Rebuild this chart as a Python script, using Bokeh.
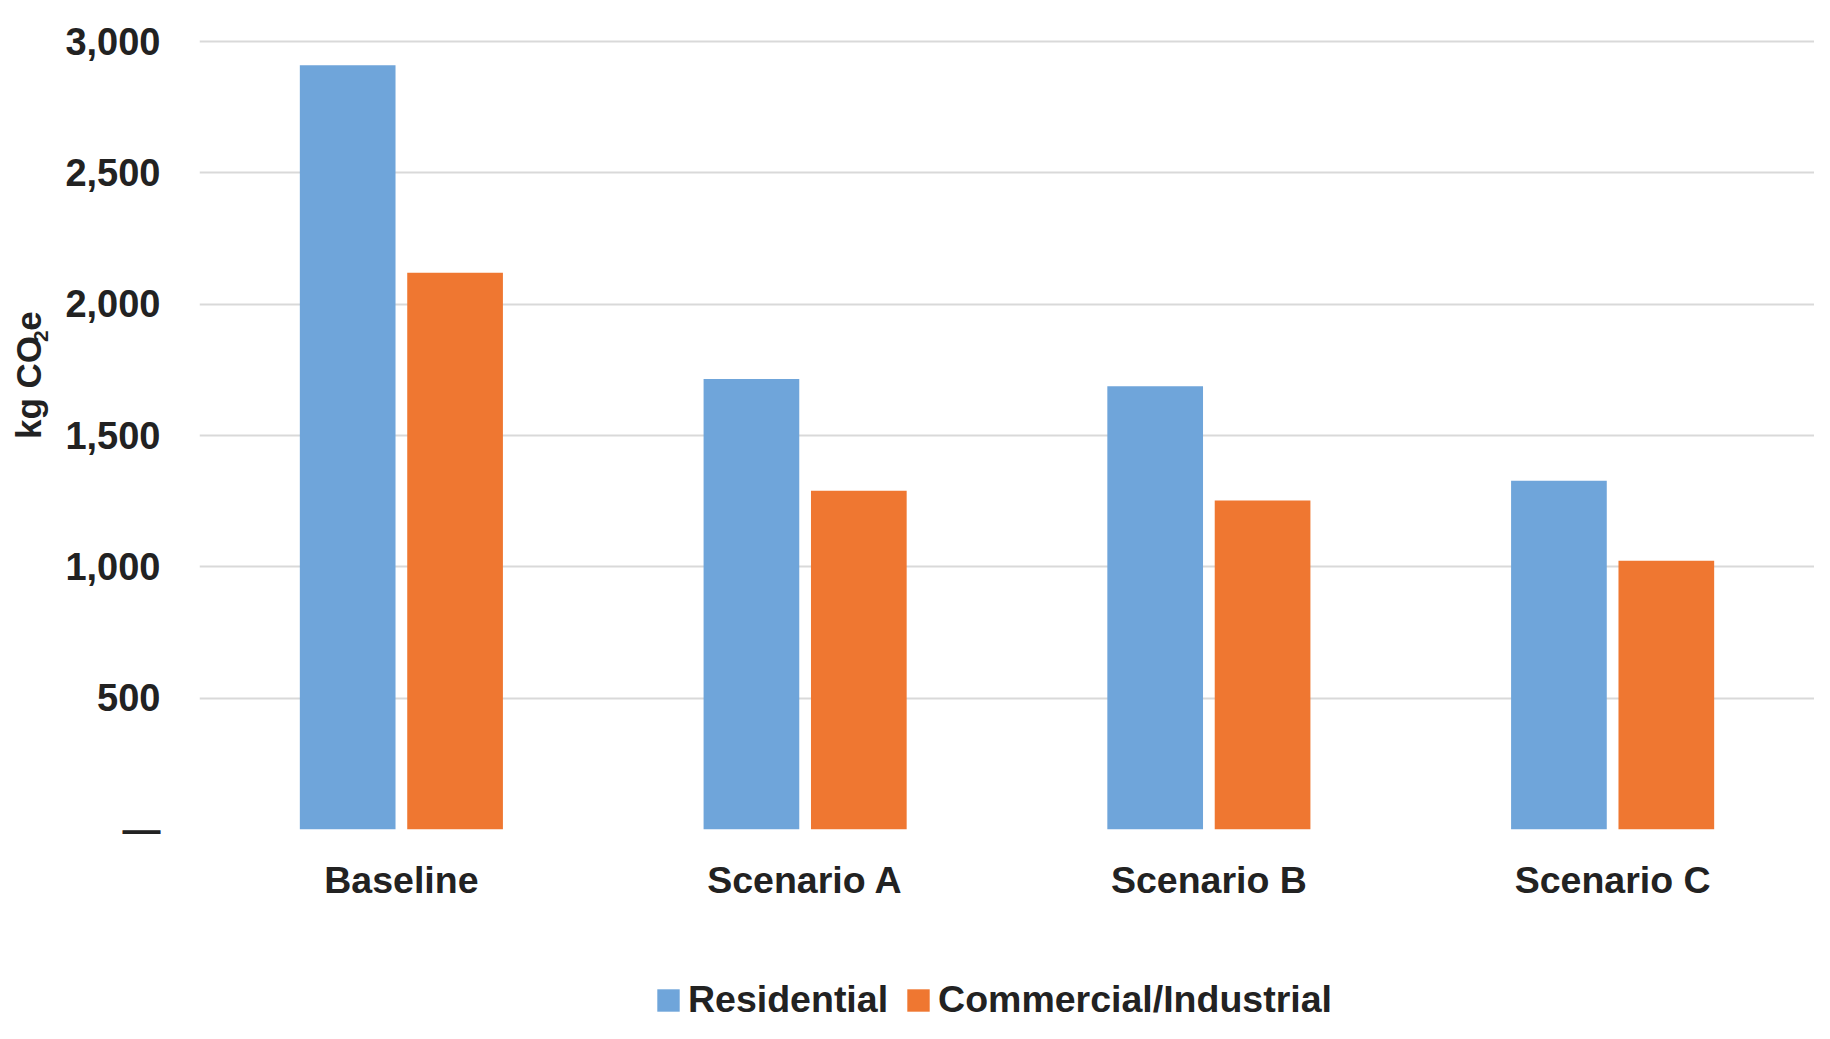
import math
from bokeh.plotting import figure
from bokeh.layouts import row, column
from bokeh.models import (FactorRange, Range1d, FixedTicker, NumeralTickFormatter,
                          Legend, LegendItem, ColumnDataSource)
from bokeh.core.properties import value
from bokeh.transform import dodge
from bokeh.embed import file_html
from bokeh.resources import INLINE

categories = ["Baseline", "Scenario A", "Scenario B", "Scenario C"]
residential = [2910, 1715, 1688, 1328]
commercial = [2120, 1290, 1253, 1023]
y_ticks = [0, 500, 1000, 1500, 2000, 2500, 3000]
series_names = ["Residential", "Commercial/Industrial"]
y_title_parts = ["kg CO", "2", "e"]

FONT = "Liberation Sans"
TXT = "#222222"
BLUE = "#6fa5da"
ORANGE = "#ef7731"

TOTAL_W, TOTAL_H = 1814, 1023
YL_W = 52          # strip holding the y-axis title
MAIN_H = 940       # chart figure height; legend strip below
OFF, BW = 0.133, 0.237

src = ColumnDataSource(dict(cat=categories, res=residential, com=commercial))

# ---------------- main chart ----------------
p = figure(width=TOTAL_W - YL_W, height=MAIN_H,
           x_range=FactorRange(*categories, range_padding=0),
           y_range=Range1d(0, 3008), output_backend="svg", toolbar_location=None,
           min_border_left=147, min_border_right=0, min_border_top=39,
           min_border_bottom=MAIN_H - 829)
p.outline_line_color = None

p.vbar(x=dodge("cat", -OFF, range=p.x_range), top="res", width=BW, source=src,
       fill_color=BLUE, line_color=None)
p.vbar(x=dodge("cat", OFF, range=p.x_range), top="com", width=BW, source=src,
       fill_color=ORANGE, line_color=None)

p.xgrid.grid_line_color = None
p.ygrid.grid_line_color = "#d9d9d9"
p.ygrid.grid_line_width = 2
p.ygrid.level = "underlay"

yax = p.yaxis[0]
yax.ticker = FixedTicker(ticks=y_ticks)
yax.formatter = NumeralTickFormatter(format="0,0")
yax.major_label_overrides = {0: "\u2014"}
yax.axis_line_color = None
yax.major_tick_line_color = None
yax.minor_tick_line_color = None
yax.major_label_standoff = 33
yax.major_label_text_font = FONT
yax.major_label_text_font_style = "bold"
yax.major_label_text_font_size = "38px"
yax.major_label_text_color = TXT

xax = p.xaxis[0]
xax.axis_line_color = None
xax.major_tick_line_color = None
xax.minor_tick_line_color = None
xax.major_label_standoff = 23
xax.major_label_text_font = FONT
xax.major_label_text_font_style = "bold"
xax.major_label_text_font_size = "37.5px"
xax.major_label_text_color = TXT

# ---------------- y-axis title strip (text glyphs in pixel-like coords) ----------------
yl = figure(width=YL_W, height=MAIN_H, x_range=Range1d(0, YL_W), y_range=Range1d(MAIN_H, 0),
            output_backend="svg", toolbar_location=None,
            x_axis_location=None, y_axis_location=None,
            min_border=0, min_border_left=0, min_border_right=0,
            min_border_top=0, min_border_bottom=0)
yl.grid.visible = False
yl.outline_line_color = None
tkw = dict(angle=math.pi / 2, text_font=value(FONT), text_font_style="bold",
           text_color=TXT, text_align="center", text_baseline="middle")
yl.text(x=[28], y=[414], text=[y_title_parts[0]], text_font_size="35px", **tkw)
yl.text(x=[40], y=[353], text=[y_title_parts[1]], text_font_size="21px", **tkw)
yl.text(x=[28], y=[335], text=[y_title_parts[2]], text_font_size="35px", **tkw)

# ---------------- legend strip ----------------
lg = figure(width=TOTAL_W, height=TOTAL_H - MAIN_H,
            x_range=FactorRange(*categories, range_padding=0), y_range=Range1d(-2, -1),
            output_backend="svg", toolbar_location=None,
            x_axis_location=None, y_axis_location=None,
            min_border=0, min_border_left=0, min_border_right=0,
            min_border_top=0, min_border_bottom=0)
lg.grid.visible = False
lg.outline_line_color = None
g1 = lg.vbar(x=dodge("cat", -OFF, range=lg.x_range), top="res", width=BW, source=src,
             fill_color=BLUE, line_color=None, visible=False)
g2 = lg.vbar(x=dodge("cat", OFF, range=lg.x_range), top="com", width=BW, source=src,
             fill_color=ORANGE, line_color=None, visible=False)
legend = Legend(items=[LegendItem(label=series_names[0], renderers=[g1]),
                       LegendItem(label=series_names[1], renderers=[g2])],
                orientation="horizontal", location=(654, 2),
                label_text_font=FONT, label_text_font_style="bold",
                label_text_font_size="37.5px", label_text_color=TXT,
                glyph_width=28, glyph_height=28, label_height=42, label_standoff=6,
                spacing=16, padding=0, margin=0, border_line_color=None,
                background_fill_alpha=0, inactive_fill_alpha=0)
lg.add_layout(legend)

layout = column(row(yl, p), lg)
open("out.html", "w").write(file_html(layout, INLINE))
